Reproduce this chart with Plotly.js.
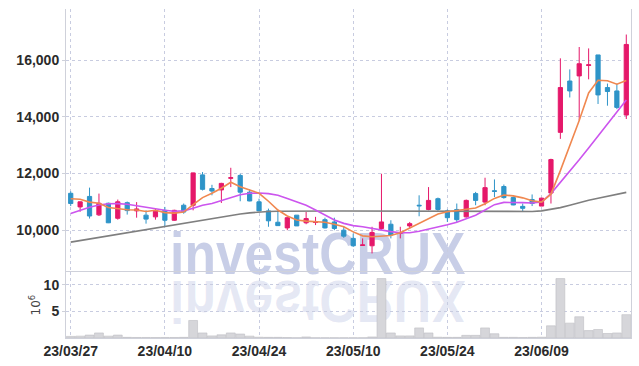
<!DOCTYPE html>
<html>
<head>
<meta charset="utf-8">
<script src="https://cdn.plot.ly/plotly-3.0.1.min.js"></script>
<style>html,body{margin:0;padding:0;background:#fff;}#chart{width:639px;height:366px;}</style>
</head>
<body>
<div id="chart"></div>
<script>
const dates = ['23/03/27','23/03/28','23/03/29','23/03/30','23/03/31',
'23/04/03','23/04/04','23/04/05','23/04/06','23/04/07','23/04/10','23/04/11','23/04/12','23/04/13','23/04/14',
'23/04/17','23/04/18','23/04/19','23/04/20','23/04/21','23/04/24','23/04/25','23/04/26','23/04/27','23/04/28',
'23/05/02','23/05/03','23/05/04','23/05/08','23/05/09','23/05/10','23/05/11','23/05/12','23/05/15','23/05/16',
'23/05/17','23/05/18','23/05/19','23/05/22','23/05/23','23/05/24','23/05/25','23/05/26','23/05/30','23/05/31',
'23/06/01','23/06/02','23/06/05','23/06/07','23/06/08','23/06/09','23/06/12','23/06/13','23/06/14','23/06/15',
'23/06/16','23/06/19','23/06/20','23/06/21','23/06/22'];

const openP  = [11300,10820,11190,10540,10950,10420,10970,10680,10530,10470,10700,10350,10880,10880,11950,11470,11420,11830,11930,11340,11000,10680,10280,10080,10530,10260,10270,10370,10290,10000,9710,9460,9450,10060,10210,9890,10150,10880,10730,11110,10680,10730,10470,11290,10990,11390,11540,11150,10840,11080,10850,11310,13450,15260,15440,15810,16180,15030,14910,14060];
const highP  = [11370,11010,11500,11290,10970,11080,11010,10990,10700,10780,10820,10720,10940,12030,12050,11600,11670,12200,11990,11440,11110,10760,10700,10470,10530,10640,10470,10440,10440,10120,9880,9710,10120,11990,10350,10120,10290,11230,11520,11150,10730,10940,11080,11350,11850,11790,11610,11190,10940,11260,11140,12520,16060,15670,16460,16410,16180,15170,15170,16900];
const lowP   = [10850,10650,10410,10500,10250,10370,10550,10440,10230,10370,10150,10330,10580,10700,11400,11230,10960,11520,11020,11020,10670,10120,10150,10000,10150,10210,10180,10060,10000,9730,9410,9460,9180,10000,9710,9710,10060,10490,10700,10680,10290,10290,10440,10880,10880,11170,11110,10880,10640,10850,10850,10940,13220,14680,13860,15320,14450,14390,14270,13920];
const closeP = [10940,11000,10500,10950,10260,11000,10690,10750,10390,10670,10350,10700,10640,12020,11440,11380,11650,11850,11340,11030,10680,10330,10160,10440,10150,10410,10290,10080,10060,9790,9450,9480,9920,10290,9830,9910,10230,10860,11050,10730,10440,10370,11050,11050,11500,11370,11150,10890,10770,10940,11130,12490,15030,14910,15870,15830,14770,14890,14330,16550];

const ma5  = [11110,11090,10990,10950,10800,10750,10720,10710,10660,10700,10620,10600,10640,10900,11150,11300,11480,11690,11530,11420,11300,11020,10710,10500,10360,10320,10300,10280,10210,10120,9940,9800,9770,9790,9810,9910,10080,10240,10420,10570,10650,10700,10740,10780,10930,11120,11240,11210,11140,11040,10990,11270,12100,12950,13870,14840,15285,15270,15150,15280];
const ma10 = [10585,10700,10810,10890,10930,10935,10915,10860,10800,10760,10700,10670,10680,10770,10880,10940,11050,11160,11250,11300,11310,11290,11230,11120,11000,10880,10710,10530,10360,10240,10160,10120,10060,10000,9950,9910,9910,9960,10030,10110,10190,10280,10400,10530,10710,10900,10980,10985,10970,10960,10990,11290,11680,12080,12480,12900,13330,13750,14150,14590];
const ma60 = [9579,9635,9691,9747,9800,9856,9912,9968,10025,10081,10137,10193,10249,10302,10358,10414,10470,10519,10568,10611,10642,10660,10670,10675,10675,10675,10675,10675,10675,10675,10675,10670,10670,10670,10670,10670,10670,10665,10660,10655,10650,10650,10650,10650,10650,10650,10650,10650,10655,10660,10680,10725,10795,10877,10971,11053,11123,11193,11240,11333];

const volume = [0.3,0.35,0.55,0.95,0.35,0.55,0.12,0.1,0.1,0.08,0.1,0.1,0.12,3.3,0.95,0.4,0.6,0.95,0.75,0.35,0.15,0.12,0.12,0.08,0.05,0.2,0.05,0.05,0.05,0.05,0.05,0.05,0.2,11.2,0.95,0.4,0.4,1.9,0.95,0.15,0.12,0.12,0.5,0.5,1.9,0.8,0.12,0.12,0.1,0.12,0.15,2.3,11.2,2.8,4.0,1.4,1.6,0.85,0.95,4.4];

const xTicks = ['23/03/27','23/04/10','23/04/24','23/05/10','23/05/24','23/06/09'];
const priceTicks = [10000,12000,14000,16000];
const volTicks = [5,10];

const RED = '#E5186A', BLUE = '#2E94C8';
const tickFont = {family:'Liberation Sans Narrow, Arial Narrow, sans-serif', size:14, color:'#2b2b2b', weight:'bold'};
const wmFont = 'Liberation Sans Narrow, Arial Narrow, sans-serif';

const traces = [
  {type:'bar', x:dates, y:volume, xaxis:'x', yaxis:'y2',
   marker:{color:'#d6d6da', line:{color:'#bdbdc2', width:0.6}}, hoverinfo:'skip'},
  {type:'candlestick', x:dates, open:openP, high:highP, low:lowP, close:closeP, xaxis:'x', yaxis:'y',
   increasing:{line:{color:RED, width:1}, fillcolor:RED},
   decreasing:{line:{color:BLUE, width:1}, fillcolor:BLUE}},
  {type:'scatter', mode:'lines', x:dates, y:ma60, line:{color:'#7f7f7f', width:1.6}, xaxis:'x', yaxis:'y'},
  {type:'scatter', mode:'lines', x:dates, y:ma10, line:{color:'#CC55EE', width:1.6}, xaxis:'x', yaxis:'y'},
  {type:'scatter', mode:'lines', x:dates, y:ma5, line:{color:'#F08850', width:1.6}, xaxis:'x', yaxis:'y'}
];

const gridC = '#c8cce0';
const layout = {
  width:639, height:366,
  margin:{l:66, r:8, t:9, b:28},
  paper_bgcolor:'#ffffff', plot_bgcolor:'#ffffff',
  showlegend:false, boxgap:0.36, bargap:0.06,
  xaxis:{type:'category', anchor:'y2', tickvals:xTicks, ticktext:xTicks, showgrid:true, gridcolor:gridC, griddash:'dot', gridwidth:1,
         showline:true, linecolor:'#cfd1da', linewidth:1, mirror:true, ticks:'', tickfont:tickFont,
         rangeslider:{visible:false}, range:[-0.5, 59.5], fixedrange:true},
  yaxis:{domain:[0.2,1], range:[8518,17800], tickvals:priceTicks, tickformat:',d', showgrid:true, gridcolor:gridC, griddash:'dot',
         showline:true, linecolor:'#cfd1da', mirror:true, ticks:'outside', ticklen:3, tickcolor:'#cfd1da', tickfont:tickFont, zeroline:false},
  yaxis2:{domain:[0,0.2], range:[0,12.4], tickvals:volTicks, showgrid:true, gridcolor:gridC, griddash:'dot',
          showline:true, linecolor:'#cfd1da', mirror:true, ticks:'outside', ticklen:3, tickcolor:'#cfd1da', tickfont:tickFont, zeroline:false,
          title:{text:'10<sup>6</sup>', font:{family:'DejaVu Sans, sans-serif', size:12, color:'#444'}, standoff:0}},
  annotations:[
    {text:'investCRUX', xref:'paper', yref:'paper', x:0.445, y:0.258, xanchor:'center', yanchor:'middle', showarrow:false,
     font:{family:wmFont, size:60, color:'rgba(140,152,205,0.48)', weight:'bold'}},
    {text:'investCRUX', xref:'paper', yref:'paper', x:0.445, y:0.112, xanchor:'center', yanchor:'middle', showarrow:false,
     font:{family:wmFont, size:60, color:'rgba(140,152,205,0.22)', weight:'bold'}}
  ]
};

Plotly.newPlot('chart', traces, layout, {displayModeBar:false, staticPlot:true}).then(gd => {
  const anns = gd.querySelectorAll('g.annotation');
  const below = gd.querySelector('.layer-below');
  anns.forEach((a, k) => {
    const t = a.querySelector('text');
    if (!t) return;
    const bb = t.getBBox();
    const cx = bb.x + bb.width/2, cy = bb.y + bb.height/2;
    const sy = k === 1 ? -1 : 1;
    const prev = t.getAttribute('transform') || '';
    t.setAttribute('transform', prev + ' translate(' + cx + ',' + cy + ') scale(0.86,' + sy + ') translate(' + (-cx) + ',' + (-cy) + ')');
  });
  if (below) anns.forEach(a => below.appendChild(a));
});
</script>
</body>
</html>
